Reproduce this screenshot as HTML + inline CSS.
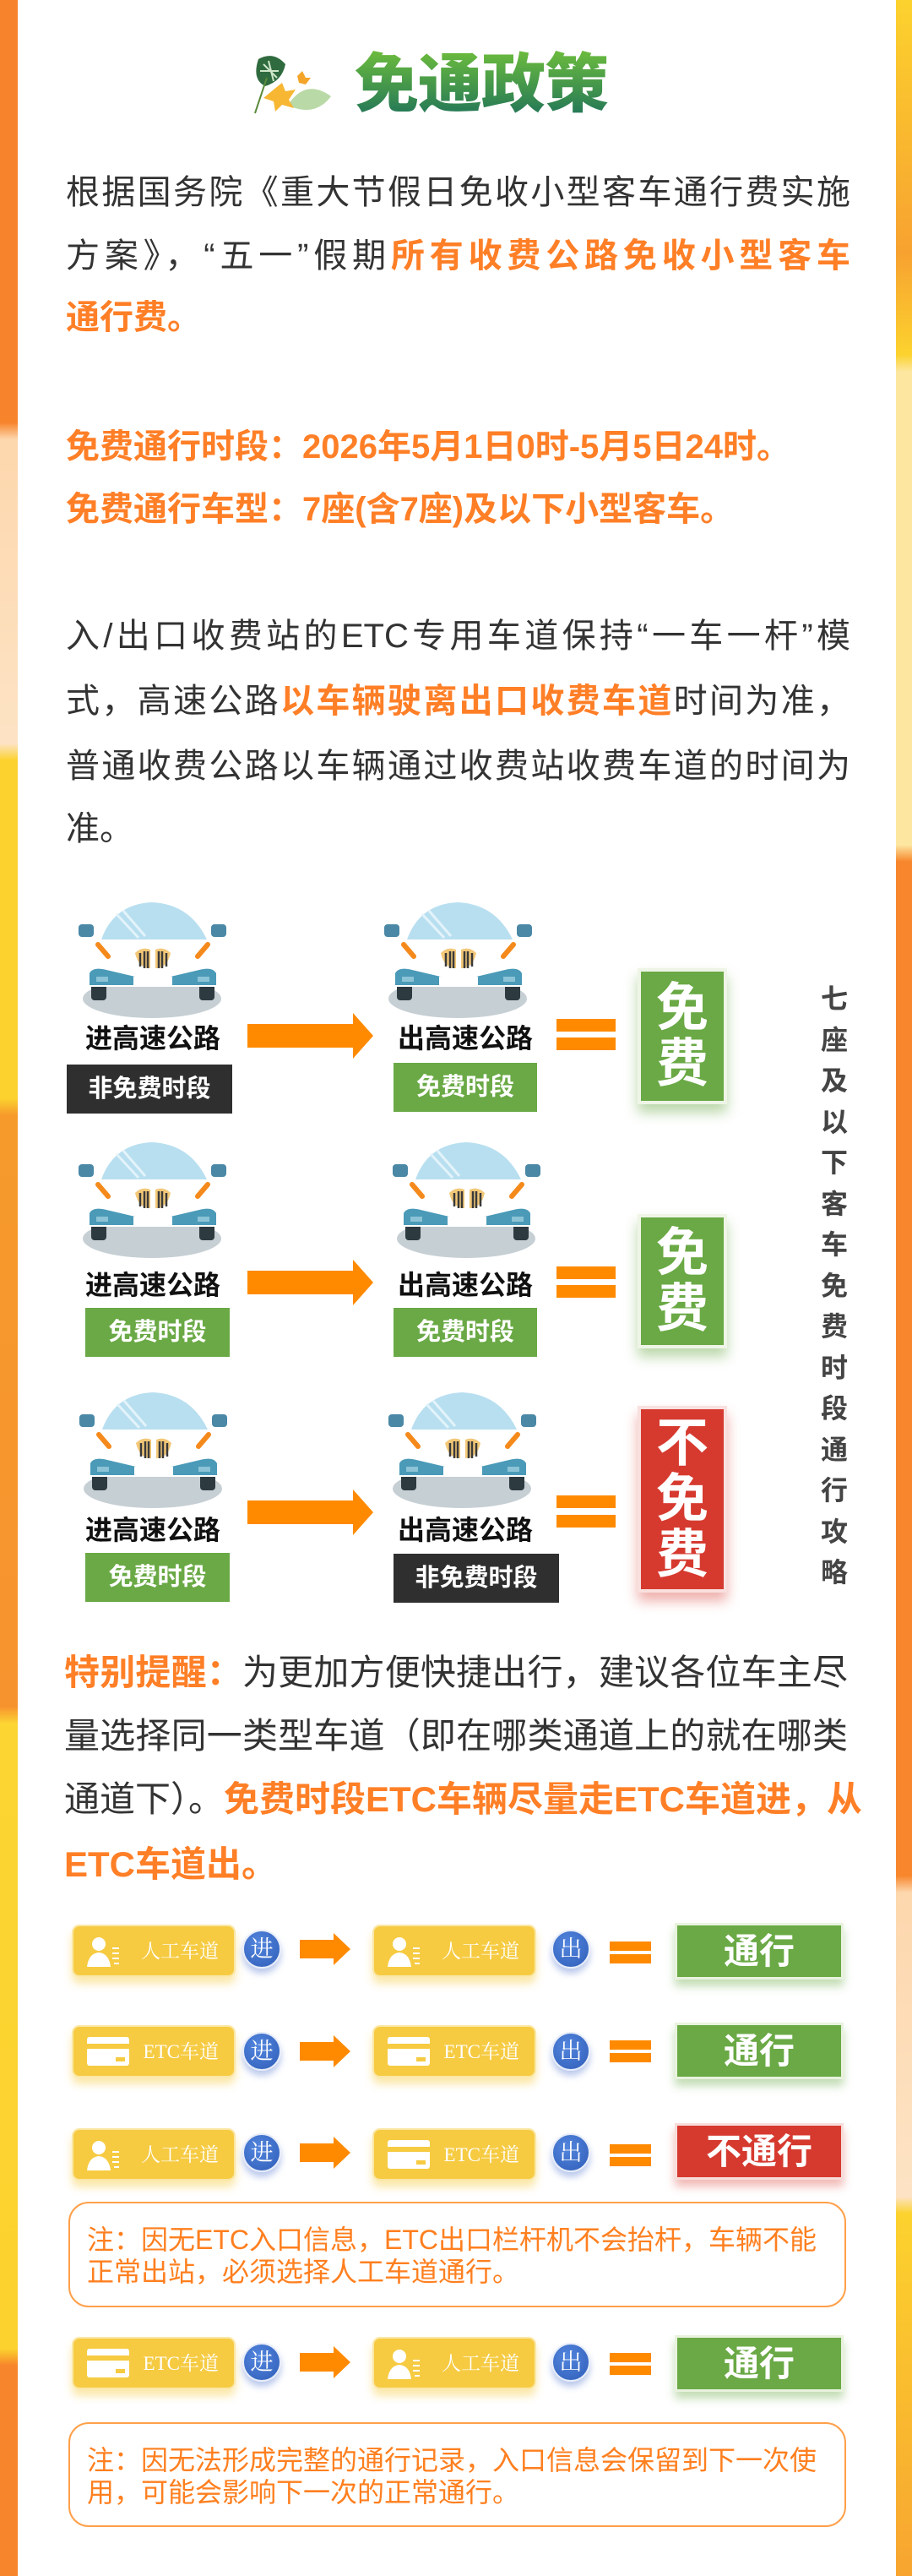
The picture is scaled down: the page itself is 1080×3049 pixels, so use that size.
<!DOCTYPE html>
<html><head><meta charset="utf-8">
<style>
*{margin:0;padding:0;box-sizing:border-box}
body{width:1080px;height:3049px;position:relative;background:#fff;overflow:hidden;font-family:"Liberation Sans","Noto Sans CJK SC",sans-serif}
.abs{position:absolute}
.ln{position:absolute;left:78px;width:929px;font-size:40px;line-height:76px;height:76px;color:#333;white-space:nowrap;text-align:justify;text-align-last:justify}
.ln.nj{text-align-last:left}
.o{color:#ff7f27;font-weight:bold}
.rm{font-size:42px;left:76px;width:928px}
.lab{position:absolute;font-size:32px;font-weight:bold;color:#111;white-space:nowrap;line-height:40px}
.tag{position:absolute;height:58px;color:#fff;font-weight:bold;font-size:29px;line-height:58px;text-align:center}
.blk{background:#2f2f2f}.grn{background:#6aa945}
.res{position:absolute;width:106px;color:#fff;font-weight:bold;font-size:62px;line-height:66px;text-align:center;border:4px solid #eef5e6;display:flex;flex-direction:column;justify-content:center;align-items:center}
.rg{background:#6aa945;box-shadow:0 10px 14px rgba(106,169,69,.45)}
.rr{background:#d63a2f;border-color:#f8e0de;box-shadow:0 10px 14px rgba(214,58,47,.4)}
.eq{position:absolute;width:70px;height:15px;background:#ff8a00}
.vt{position:absolute;left:970px;width:36px;font-size:32px;font-weight:bold;color:#444;line-height:48.5px;text-align:center}
.box{position:absolute;width:194px;height:62px;background:#f6cb42;border:2px solid #fbe7a6;border-radius:9px;box-shadow:0 8px 10px rgba(246,203,66,.45)}
.box span{position:absolute;right:18px;top:0;line-height:60px;color:#fff;font-family:"Liberation Serif","Noto Serif CJK SC",serif;font-size:23px}
.cir{position:absolute;width:46px;height:46px;border-radius:50%;background:radial-gradient(circle at 40% 35%,#5386de,#2f5db8);border:2px solid #e6ecf8;color:#fff;font-family:"Liberation Serif","Noto Serif CJK SC",serif;font-size:27px;line-height:42px;text-align:center;box-shadow:0 6px 8px rgba(60,100,200,.35)}
.lr{position:absolute;left:799px;width:200px;height:67px;color:#fff;font-weight:bold;font-size:42px;line-height:61px;text-align:center;border:3px solid #e8f2de}
.lr.g{background:#6aa945;box-shadow:0 8px 10px rgba(106,169,69,.4)}
.lr.r{background:#d63a2f;border-color:#f7dcda;box-shadow:0 8px 10px rgba(214,58,47,.35)}
.sq{position:absolute;left:722px;width:49px;height:11px;background:#ff8a00}
.note{position:absolute;left:81px;width:921px;border:2px solid #ffa04a;border-radius:24px;color:#ff7f1f;font-size:32px;line-height:38px;padding-left:20px;padding-top:24px}
</style></head><body>

<div class="abs" style="left:0;top:0;width:21px;height:3049px;background:linear-gradient(#f7842c 0,#f7842c 500px,#fdd7ad 520px,#fde3c4 880px,#fcd22e 900px,#fcd22e 1300px,#f69a2c 1320px,#f7932e 2020px,#fcd533 2040px,#fcd22e 2780px,#f7852c 2800px,#f7852c 3049px)"></div>
<div class="abs" style="left:1061px;top:0;width:19px;height:3049px;background:linear-gradient(#fcd22e 0,#f7a230 300px,#fcd22e 420px,#fde6a0 440px,#fde6a0 1000px,#f7862c 1020px,#f7862c 2220px,#fdd7ad 2240px,#fde3c4 2600px,#fcd22e 2620px,#f7a530 3049px)"></div>

<svg class="abs" style="left:294px;top:62px" width="100" height="78" viewBox="0 0 100 78">
<path d="M12 8 Q30 -2 44 14 Q40 34 20 40 Q4 32 12 8Z" fill="#2f6b3e"/>
<path d="M18 14 L34 30 M24 10 L30 34 M14 22 L36 22" stroke="#cfe6c8" stroke-width="2"/>
<path d="M50 58 Q70 32 98 52 Q80 76 50 64Z" fill="#b9d9a6"/>
<path d="M30 44 L40 36 L44 46 L56 44 L48 56 L54 66 L40 62 L32 70 L30 58 L18 54Z" fill="#f7b733"/>
<path d="M58 28 L64 22 L68 30 L74 30 L68 38 L60 36Z" fill="#f3a52a"/>
<path d="M8 72 L22 30" stroke="#5a8a3a" stroke-width="2"/>
</svg>
<div class="abs" style="left:420px;top:56px;font-size:76px;font-weight:900;line-height:90px;letter-spacing:-1px;background:linear-gradient(#6fbf3c,#1b6f5a);-webkit-background-clip:text;background-clip:text;color:transparent">免通政策</div>

<div class="ln" style="top:190px">根据国务院《重大节假日免收小型客车通行费实施</div>
<div class="ln" style="top:265px">方案》，“五一”假期<span class="o">所有收费公路免收小型客车</span></div>
<div class="ln nj" style="top:338px"><span class="o">通行费。</span></div>

<div class="ln nj" style="top:491px"><span class="o">免费通行时段：2026年5月1日0时-5月5日24时。</span></div>
<div class="ln nj" style="top:565px"><span class="o">免费通行车型：7座(含7座)及以下小型客车。</span></div>

<div class="ln" style="top:715px">入/出口收费站的ETC专用车道保持“一车一杆”模</div>
<div class="ln" style="top:792px">式，高速公路<span class="o">以车辆驶离出口收费车道</span>时间为准，</div>
<div class="ln" style="top:869px">普通收费公路以车辆通过收费站收费车道的时间为</div>
<div class="ln nj" style="top:943px">准。</div>

<svg class="abs" style="left:0;top:0" width="1080" height="2100" viewBox="0 0 1080 2100">
<defs>
<g id="car">
<ellipse cx="100" cy="122" rx="82" ry="23" fill="#c6cfd4"/>
<rect x="28" y="94" width="18" height="30" rx="4" fill="#2d3a40"/>
<rect x="156" y="94" width="18" height="30" rx="4" fill="#2d3a40"/>
<path d="M38 50 L165 50 L172 82 L178 95 L178 108 L24 108 L24 95 L30 82Z" fill="#fff"/>
<path d="M40 52 Q55 10 100 8 Q145 10 165 52Z" fill="#b8dff0"/>
<path d="M58 22 L84 50 M66 18 L92 48" stroke="#e3f3fa" stroke-width="3"/>
<rect x="13" y="34" width="18" height="15" rx="4" fill="#4a88a6"/>
<rect x="170" y="34" width="18" height="15" rx="4" fill="#4a88a6"/>
<line x1="36" y1="58" x2="48" y2="72" stroke="#f58a1c" stroke-width="6" stroke-linecap="round"/>
<line x1="166" y1="58" x2="154" y2="72" stroke="#f58a1c" stroke-width="6" stroke-linecap="round"/>
<path d="M80 68 Q88 60 98 64 L98 86 Q84 86 80 68Z" fill="#f3c878"/>
<path d="M104 64 Q114 60 122 68 Q118 86 104 86Z" fill="#f3c878"/>
<path d="M86 68 V84 M91 66 V86 M95 66 V86 M108 66 V86 M112 66 V86 M117 68 V84" stroke="#3a3a3a" stroke-width="2.5"/>
<path d="M26 92 Q30 84 46 88 L80 96 L122 96 L156 88 Q172 84 176 92 L176 106 L26 106Z" fill="#4a9ab8"/>
<rect x="78" y="96" width="46" height="11" fill="#fff"/>
<rect x="34" y="96" width="14" height="6" fill="#8cc3d6"/>
<rect x="154" y="96" width="14" height="6" fill="#8cc3d6"/>
</g>
<polygon id="arr" points="0,-14 125,-14 125,-27 149,0 125,27 125,14 0,14" fill="#ff8a00"/>
</defs>
<use href="#car" x="80" y="1060"/><use href="#car" x="442" y="1060"/>
<use href="#car" x="80" y="1344"/><use href="#car" x="452" y="1344"/>
<use href="#car" x="81" y="1640"/><use href="#car" x="447" y="1640"/>
<use href="#arr" x="293" y="1226"/>
<use href="#arr" x="293" y="1518"/>
<use href="#arr" x="293" y="1790"/>
</svg>

<div class="lab" style="left:101px;top:1209px">进高速公路</div>
<div class="lab" style="left:471px;top:1209px">出高速公路</div>
<div class="tag blk" style="left:79px;top:1260px;width:196px">非免费时段</div>
<div class="tag grn" style="left:466px;top:1258px;width:170px">免费时段</div>
<div class="eq" style="left:659px;top:1206px"></div><div class="eq" style="left:659px;top:1228px"></div>
<div class="res rg" style="left:755px;top:1146px;height:161px"><div>免</div><div>费</div></div>

<div class="lab" style="left:101px;top:1501px">进高速公路</div>
<div class="lab" style="left:471px;top:1501px">出高速公路</div>
<div class="tag grn" style="left:101px;top:1548px;width:171px">免费时段</div>
<div class="tag grn" style="left:466px;top:1548px;width:170px">免费时段</div>
<div class="eq" style="left:659px;top:1499px"></div><div class="eq" style="left:659px;top:1521px"></div>
<div class="res rg" style="left:755px;top:1437px;height:159px"><div>免</div><div>费</div></div>

<div class="lab" style="left:101px;top:1791px">进高速公路</div>
<div class="lab" style="left:471px;top:1791px">出高速公路</div>
<div class="tag grn" style="left:101px;top:1838px;width:171px">免费时段</div>
<div class="tag blk" style="left:466px;top:1839px;width:196px">非免费时段</div>
<div class="eq" style="left:659px;top:1770px"></div><div class="eq" style="left:659px;top:1793px"></div>
<div class="res rr" style="left:755px;top:1664px;height:221px"><div>不</div><div>免</div><div>费</div></div>

<div class="vt" style="top:1158px">七<br>座<br>及<br>以<br>下<br>客<br>车<br>免<br>费<br>时<br>段<br>通<br>行<br>攻<br>略</div>

<div class="ln rm" style="top:1942px"><span class="o">特别提醒：</span>为更加方便快捷出行，建议各位车主尽</div>
<div class="ln rm" style="top:2017px">量选择同一类型车道（即在哪类通道上的就在哪类</div>
<div class="ln rm" style="top:2092px">通道下）。<span class="o">免费时段ETC车辆尽量走ETC车道进，从</span></div>
<div class="ln rm nj" style="top:2169px"><span class="o">ETC车道出。</span></div>

<svg class="abs" style="left:0;top:0;pointer-events:none;z-index:2" width="1080" height="3049" viewBox="0 0 1080 3049">
<defs>
<g id="per"><circle cx="14" cy="9" r="8" fill="#fff"/><path d="M0 36 Q2 20 14 19 Q26 20 28 36Z" fill="#fff"/><path d="M30 14 H38 M30 20 H38 M30 26 H38 M32 32 H38" stroke="#fff" stroke-width="2"/></g>
<g id="card"><rect x="0" y="0" width="50" height="34" rx="3" fill="#fff"/><rect x="0" y="8" width="50" height="6" fill="#f6cb42"/><rect x="34" y="24" width="11" height="5" fill="#f6cb42"/></g>
<polygon id="sa" points="0,-11 40,-11 40,-19 60,0 40,19 40,11 0,11" fill="#ff8a00"/>
</defs>
</svg>

<div class="box" style="left:85px;top:2278px"><svg class="abs" style="left:16px;top:12px" width="42" height="38"><use href="#per"/></svg><span>人工车道</span></div>
<div class="cir" style="left:287px;top:2284px">进</div>
<svg class="abs" style="left:355px;top:2287px" width="62" height="40"><use href="#sa" y="20"/></svg>
<div class="box" style="left:441px;top:2278px"><svg class="abs" style="left:16px;top:12px" width="42" height="38"><use href="#per"/></svg><span>人工车道</span></div>
<div class="cir" style="left:653px;top:2284px">出</div>
<div class="sq" style="top:2298px"></div><div class="sq" style="top:2313px"></div>
<div class="lr g" style="top:2276px">通行</div>

<div class="box" style="left:85px;top:2397px"><svg class="abs" style="left:16px;top:12px" width="52" height="36"><use href="#card"/></svg><span>ETC车道</span></div>
<div class="cir" style="left:287px;top:2405px">进</div>
<svg class="abs" style="left:355px;top:2408px" width="62" height="40"><use href="#sa" y="20"/></svg>
<div class="box" style="left:441px;top:2397px"><svg class="abs" style="left:16px;top:12px" width="52" height="36"><use href="#card"/></svg><span>ETC车道</span></div>
<div class="cir" style="left:653px;top:2405px">出</div>
<div class="sq" style="top:2415px"></div><div class="sq" style="top:2430px"></div>
<div class="lr g" style="top:2394px">通行</div>

<div class="box" style="left:85px;top:2519px"><svg class="abs" style="left:16px;top:12px" width="42" height="38"><use href="#per"/></svg><span>人工车道</span></div>
<div class="cir" style="left:287px;top:2525px">进</div>
<svg class="abs" style="left:355px;top:2528px" width="62" height="40"><use href="#sa" y="20"/></svg>
<div class="box" style="left:441px;top:2519px"><svg class="abs" style="left:16px;top:12px" width="52" height="36"><use href="#card"/></svg><span>ETC车道</span></div>
<div class="cir" style="left:653px;top:2525px">出</div>
<div class="sq" style="top:2538px"></div><div class="sq" style="top:2553px"></div>
<div class="lr r" style="top:2513px">不通行</div>

<div class="note" style="top:2606px;height:125px">注：因无ETC入口信息，ETC出口栏杆机不会抬杆，车辆不能<br>正常出站，必须选择人工车道通行。</div>

<div class="box" style="left:85px;top:2766px"><svg class="abs" style="left:16px;top:12px" width="52" height="36"><use href="#card"/></svg><span>ETC车道</span></div>
<div class="cir" style="left:287px;top:2773px">进</div>
<svg class="abs" style="left:355px;top:2776px" width="62" height="40"><use href="#sa" y="20"/></svg>
<div class="box" style="left:441px;top:2766px"><svg class="abs" style="left:16px;top:12px" width="42" height="38"><use href="#per"/></svg><span>人工车道</span></div>
<div class="cir" style="left:653px;top:2773px">出</div>
<div class="sq" style="top:2785px"></div><div class="sq" style="top:2800px"></div>
<div class="lr g" style="top:2764px">通行</div>

<div class="note" style="top:2867px;height:124px">注：因无法形成完整的通行记录，入口信息会保留到下一次使<br>用，可能会影响下一次的正常通行。</div>

</body></html>
